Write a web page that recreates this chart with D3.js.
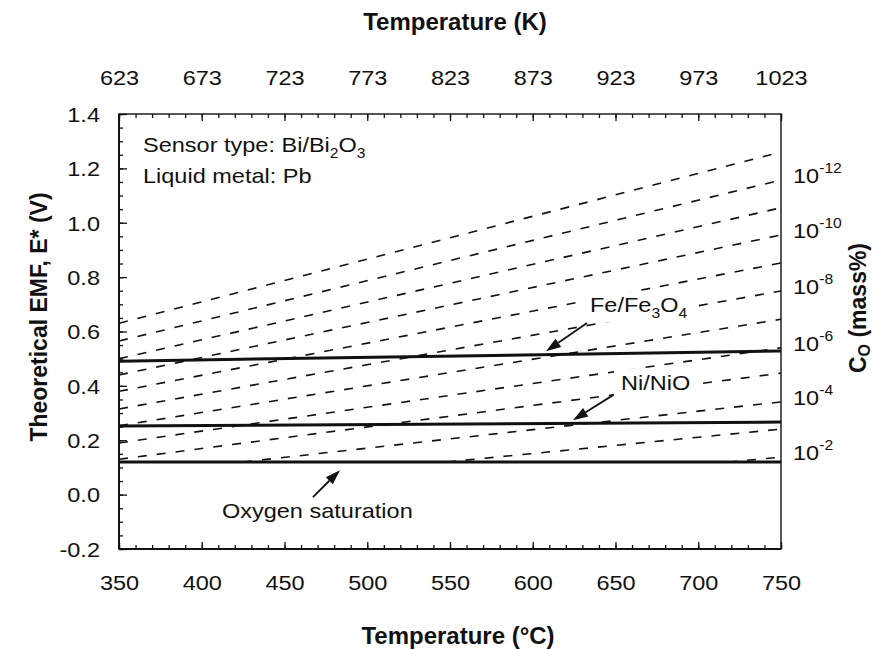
<!DOCTYPE html>
<html>
<head>
<meta charset="utf-8">
<script src="https://cdn.jsdelivr.net/npm/d3@7"></script>
<style>
  html, body { margin: 0; padding: 0; background: #fff; }
  svg { display: block; }
  text { font-family: "Liberation Sans", Arial, Helvetica, sans-serif; fill: #111; }
</style>
</head>
<body>
<svg id="chart" width="877" height="649"></svg>
<script>
// ---- Axes ----
const tempDomainC = [350, 750];
const tempDomainK = [623, 1023];
const emfDomain = [-0.2, 1.4];
const tempTicksC = [350, 400, 450, 500, 550, 600, 650, 700, 750];
const tempTicksK = [623, 673, 723, 773, 823, 873, 923, 973, 1023];
const emfTicks = [-0.2, 0.0, 0.2, 0.4, 0.6, 0.8, 1.0, 1.2, 1.4];

// ---- Iso-concentration lines (dashed) ----
// log10 of C_O (mass%), temperature where the line starts (°C),
// EMF at that start, EMF at 750 °C
const isoExponent = [-13, -12, -11, -10, -9, -8, -7, -6, -5, -4, -3, -2];
const isoStartT   = [350, 350, 350, 350, 350, 350, 350, 350, 350, 425, 548, 718];
const isoStartE   = [0.630, 0.565, 0.500, 0.440, 0.380, 0.315, 0.253, 0.190, 0.130, 0.120, 0.120, 0.120];
const isoEndE     = [1.260, 1.157, 1.055, 0.955, 0.852, 0.749, 0.645, 0.540, 0.447, 0.341, 0.241, 0.138];

// Concentration labels on the right side (exponents of 10)
const concLabels = [-12, -10, -8, -6, -4, -2];

// ---- Metal/oxide equilibria and oxygen saturation (solid) ----
const lineT    = [350, 750];
const feFe3O4E = [0.491, 0.528];
const niNiOE   = [0.252, 0.267];
const oxySatE  = [0.120, 0.120];

// ---- Layout ----
const W = 877, H = 649;
const plot = { left: 119, right: 781, top: 114, bottom: 549 };
const SX = 1.12;              // horizontal stretch of the lettering
const LABEL_SIZE = 21;

const svg = d3.select("#chart");
svg.append("rect").attr("width", W).attr("height", H).attr("fill", "#fff");

const x  = d3.scaleLinear().domain(tempDomainC).range([plot.left, plot.right]);
const xK = d3.scaleLinear().domain(tempDomainK).range([plot.left, plot.right]);
const y  = d3.scaleLinear().domain(emfDomain).range([plot.bottom, plot.top]);

svg.append("clipPath").attr("id", "plotClip")
  .append("rect")
  .attr("x", plot.left).attr("y", plot.top)
  .attr("width", plot.right - plot.left).attr("height", plot.bottom - plot.top);

const plotG = svg.append("g").attr("clip-path", "url(#plotClip)");
const line = d3.line().x(d => x(d[0])).y(d => y(d[1]));

// Dashed iso-concentration lines
const isoData = isoExponent.map((e, i) => ({
  exp: e,
  pts: [[isoStartT[i], isoStartE[i]], [tempDomainC[1], isoEndE[i]]]
}));
plotG.selectAll("path.iso").data(isoData).join("path")
  .attr("class", "iso")
  .attr("d", d => line(d.pts))
  .attr("fill", "none")
  .attr("stroke", "#111")
  .attr("stroke-width", 1.6)
  .attr("stroke-dasharray", "9,10");

// Solid equilibrium lines
const solidData = [feFe3O4E, niNiOE, oxySatE].map(es => lineT.map((t, i) => [t, es[i]]));
plotG.selectAll("path.solid").data(solidData).join("path")
  .attr("class", "solid")
  .attr("d", d => line(d))
  .attr("fill", "none")
  .attr("stroke", "#111")
  .attr("stroke-width", 3);

// ---- Text helper: stretched text with sub/superscript parts ----
function richText(parent, px, py, parts, opts = {}) {
  const g = parent.append("g").attr("transform", `translate(${px},${py})` + (opts.rotate ? ` rotate(${opts.rotate})` : ""));
  const t = g.append("text")
    .attr("transform", `scale(${opts.sx ?? SX},1)`)
    .attr("font-size", opts.size || LABEL_SIZE)
    .attr("font-weight", opts.bold ? "bold" : null)
    .attr("text-anchor", opts.anchor || "start");
  let shift = 0;
  parts.forEach(([s, kind]) => {
    const ts = t.append("tspan").text(s);
    const target = kind === "sub" ? (opts.subShift || 6) : kind === "sup" ? -10 : 0;
    if (kind) ts.attr("font-size", opts.subSize || 14);
    if (target - shift !== 0) ts.attr("dy", target - shift);
    shift = target;
  });
  return g;
}

// ---- Annotations inside the plot ----
const annG = svg.append("g");

function boxedLabel(T, E, parts, pad) {
  const g = richText(annG, x(T), y(E), parts);
  const bb = g.node().getBBox();
  g.insert("rect", "text")
    .attr("x", bb.x - pad[0]).attr("y", bb.y - pad[1])
    .attr("width", bb.width + pad[0] * 2).attr("height", bb.height + pad[1] * 2)
    .attr("fill", "#fff");
  return g;
}

richText(annG, x(364.5), y(1.26), [["Sensor type: Bi/Bi"], ["2", "sub"], ["O"], ["3", "sub"]]);
richText(annG, x(364.5), y(1.145), [["Liquid metal: Pb"]]);
boxedLabel(634.6, 0.672, [["Fe/Fe"], ["3", "sub"], ["O"], ["4", "sub"]], [5, 2]);
boxedLabel(653.3, 0.385, [["Ni/NiO"]], [7, 3]);
richText(annG, x(412.2), y(-0.086), [["Oxygen saturation"]]);

// Arrows: tail (T, E) -> head (T, E)
const arrows = [
  { from: [632.8, 0.631], to: [608.0, 0.527] },
  { from: [648.5, 0.366], to: [624.3, 0.274] },
  { from: [467.2, -0.009], to: [483.5, 0.090] }
];
arrows.forEach(a => {
  const x1 = x(a.from[0]), y1 = y(a.from[1]);
  const x2 = x(a.to[0]), y2 = y(a.to[1]);
  const dx = x2 - x1, dy = y2 - y1, len = Math.hypot(dx, dy);
  const ux = dx / len, uy = dy / len;
  const headL = 15, headW = 5;
  const bx = x2 - ux * headL, by = y2 - uy * headL;
  annG.append("line")
    .attr("x1", x1).attr("y1", y1).attr("x2", bx).attr("y2", by)
    .attr("stroke", "#111").attr("stroke-width", 1.8);
  annG.append("path")
    .attr("d", `M${x2},${y2} L${bx - uy * headW},${by + ux * headW} L${bx + uy * headW},${by - ux * headW} Z`)
    .attr("fill", "#111");
});

// ---- Axes (ticks point inwards) ----
const minorC = d3.range(350, 751, 10);
const minorE = d3.range(-4, 29).map(i => i * 0.05);
const fmtE = d => d.toFixed(1);

function styleAxis(g) {
  g.select(".domain").remove();
  g.selectAll(".tick line").attr("stroke", "#111").attr("stroke-width", 1.3);
  g.selectAll("text")
    .attr("font-family", "\"Liberation Sans\", Arial, sans-serif")
    .attr("font-size", LABEL_SIZE)
    .attr("fill", "#111");
}

// bottom (°C)
svg.append("g").attr("transform", `translate(0,${plot.bottom})`)
  .call(d3.axisBottom(x).tickValues(minorC).tickSize(-4).tickFormat(""))
  .call(styleAxis);
svg.append("g").attr("transform", `translate(0,${plot.bottom})`)
  .call(d3.axisBottom(x).tickValues(tempTicksC).tickSize(-7).tickFormat(d3.format("d")))
  .call(styleAxis)
  .call(g => g.selectAll("text").attr("y", 41).attr("dy", null).attr("transform", `scale(${SX},1)`));

// top (K)
svg.append("g").attr("transform", `translate(0,${plot.top})`)
  .call(d3.axisTop(xK).tickValues(d3.range(623, 1024, 10)).tickSize(-4).tickFormat(""))
  .call(styleAxis);
svg.append("g").attr("transform", `translate(0,${plot.top})`)
  .call(d3.axisTop(xK).tickValues(tempTicksK).tickSize(-7).tickFormat(d3.format("d")))
  .call(styleAxis)
  .call(g => g.selectAll("text").attr("y", -29).attr("dy", null).attr("transform", `scale(${SX},1)`));

// left (EMF)
svg.append("g").attr("transform", `translate(${plot.left},0)`)
  .call(d3.axisLeft(y).tickValues(minorE).tickSize(-4).tickFormat(""))
  .call(styleAxis);
svg.append("g").attr("transform", `translate(${plot.left},0)`)
  .call(d3.axisLeft(y).tickValues(emfTicks).tickSize(-8).tickFormat(fmtE))
  .call(styleAxis)
  .call(g => g.selectAll("text").attr("x", -17).attr("dy", "0.35em").attr("transform", `scale(${SX},1)`));

// Frame
svg.append("rect")
  .attr("x", plot.left).attr("y", plot.top)
  .attr("width", plot.right - plot.left).attr("height", plot.bottom - plot.top)
  .attr("fill", "none").attr("stroke", "#111").attr("stroke-width", 1.4);
svg.append("line")
  .attr("x1", plot.left).attr("x2", plot.right).attr("y1", plot.bottom).attr("y2", plot.bottom)
  .attr("stroke", "#111").attr("stroke-width", 2);
svg.append("line")
  .attr("x1", plot.left).attr("x2", plot.left).attr("y1", plot.top).attr("y2", plot.bottom)
  .attr("stroke", "#111").attr("stroke-width", 2);

// Right-hand concentration labels at the ends of the iso-lines
const rightG = svg.append("g");
concLabels.forEach(e => {
  const i = isoExponent.indexOf(e);
  richText(rightG, plot.right + 12, y(isoEndE[i]) + 3, [["10"], [String(e), "sup"]], { subSize: 14 });
});

// ---- Axis titles ----
richText(svg, 455, 30, [["Temperature (K)"]], { bold: true, size: 24, sx: 1, anchor: "middle" });
richText(svg, 458, 644, [["Temperature (°C)"]], { bold: true, size: 24, sx: 1, anchor: "middle" });
richText(svg, 47, 317, [["Theoretical EMF, E* (V)"]], { bold: true, size: 23, sx: 1, anchor: "middle", rotate: -90 });
richText(svg, 866, 308, [["C"], ["O", "sub"], [" (mass%)"]], { bold: true, size: 23, sx: 1, anchor: "middle", rotate: -90, subSize: 16, subShift: 4 });
</script>
</body>
</html>
